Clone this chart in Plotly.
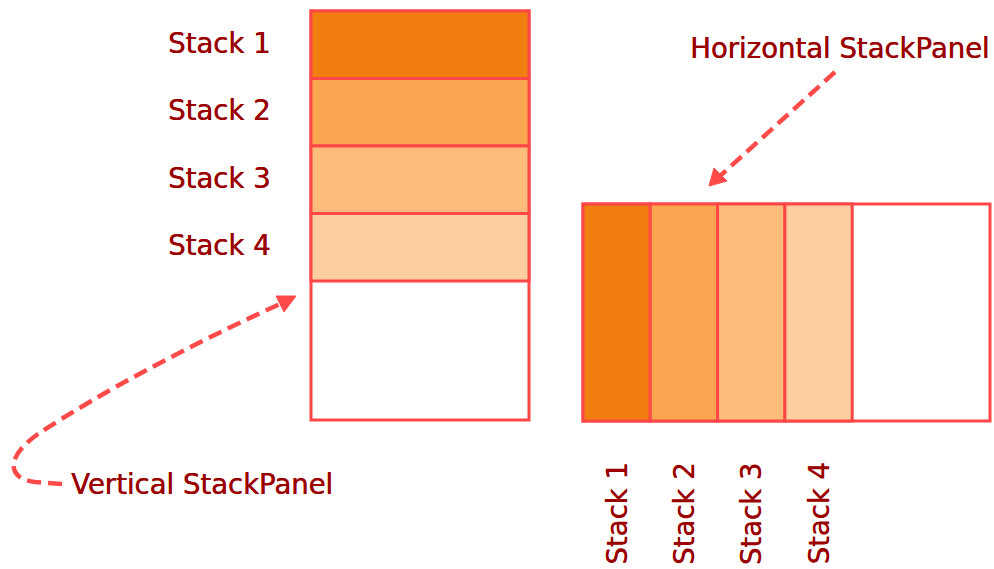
import plotly.graph_objects as go

# ---- content ----
stack_labels = ["Stack 1", "Stack 2", "Stack 3", "Stack 4"]
stack_colors = ["#F27E10", "#FCA651", "#FDBC7C", "#FECDA0"]
panel_titles = ["Vertical StackPanel", "Horizontal StackPanel"]

# ---- layout constants (pixel space) ----
W, H = 994, 569
BORDER = "#FF4747"
TEXT = "#9A0000"
FONT = "DejaVu Sans"
FS = 27.5

# vertical panel
VX0, VX1, VY0, VY1 = 311, 529, 11, 420
V_STEP = 67.5
# horizontal panel
HX0, HX1, HY0, HY1 = 583, 990, 204, 421
H_STEP = 67.3

txt_font = dict(family=FONT, size=FS, color=TEXT, shadow="0.5px 0 0 " + TEXT)

fig = go.Figure()
shapes = []
annotations = []

# Vertical stack panel
shapes.append(dict(type="rect", x0=VX0, x1=VX1, y0=VY0, y1=VY1,
                   line=dict(color=BORDER, width=3), fillcolor="white", layer="above"))
for i, (lab, col) in enumerate(zip(stack_labels, stack_colors)):
    y0 = VY0 + i * V_STEP
    shapes.append(dict(type="rect", x0=VX0, x1=VX1, y0=y0, y1=y0 + V_STEP,
                       line=dict(color=BORDER, width=3), fillcolor=col, layer="above"))
    annotations.append(dict(x=272, y=y0 + V_STEP / 2 - 2, text=lab, showarrow=False,
                            xanchor="right", yanchor="middle", font=txt_font))

# Horizontal stack panel
shapes.append(dict(type="rect", x0=HX0, x1=HX1, y0=HY0, y1=HY1,
                   line=dict(color=BORDER, width=3), fillcolor="white", layer="above"))
for i, (lab, col) in enumerate(zip(stack_labels, stack_colors)):
    x0 = HX0 + i * H_STEP
    shapes.append(dict(type="rect", x0=x0, x1=x0 + H_STEP, y0=HY0, y1=HY1,
                       line=dict(color=BORDER, width=3), fillcolor=col, layer="above"))
    annotations.append(dict(x=x0 + H_STEP / 2, y=514, text=lab, showarrow=False,
                            textangle=-90, xanchor="center", yanchor="middle",
                            font=txt_font))

# Titles
annotations.append(dict(x=202, y=484, text=panel_titles[0], showarrow=False,
                        xanchor="center", yanchor="middle", font=txt_font))
annotations.append(dict(x=839, y=48, text=panel_titles[1], showarrow=False,
                        xanchor="center", yanchor="middle", font=txt_font))

# Dashed arrows
ARROW = "#FF4A4A"
DASH = "14px,7px"
shapes.append(dict(type="path",
                   path="M 62 484 L 35 482 C 8 479 4 458 38 434 C 100 393 190 345 280 304",
                   line=dict(color=ARROW, width=4.5, dash=DASH)))
shapes.append(dict(type="path", path="M 296 296 L 276 296 L 284 312 Z",
                   fillcolor=ARROW, line=dict(color=ARROW, width=1)))
shapes.append(dict(type="path", path="M 835 72 L 720 176",
                   line=dict(color=ARROW, width=4.5, dash=DASH)))
shapes.append(dict(type="path", path="M 709 186 L 714 168 L 727 181 Z",
                   fillcolor=ARROW, line=dict(color=ARROW, width=1)))

fig.update_layout(
    width=W, height=H,
    margin=dict(l=0, r=0, t=0, b=0),
    paper_bgcolor="white", plot_bgcolor="white",
    xaxis=dict(range=[0, W], visible=False, fixedrange=True),
    yaxis=dict(range=[H, 0], visible=False, fixedrange=True),
    shapes=shapes, annotations=annotations, showlegend=False,
)

fig.write_html(
    "out.html",
    config={"displayModeBar": False},
    post_script="document.body.style.margin='0';document.body.style.overflow='hidden';",
)
